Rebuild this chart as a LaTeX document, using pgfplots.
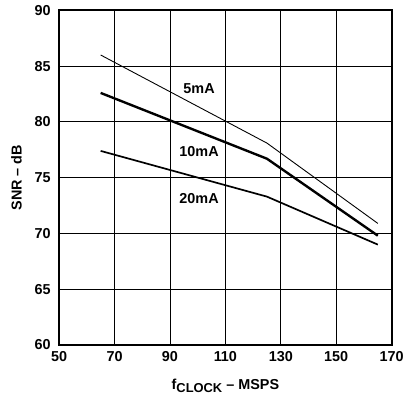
\documentclass[border=0pt]{standalone}
\usepackage{pgfplots}
\pgfplotsset{compat=1.18}
\usepackage{fontspec}
\setmainfont{Liberation Sans}
\begin{document}
\begin{tikzpicture}
\begin{axis}[
  scale only axis,
  width=335pt, height=337pt,
  xmin=50, xmax=170, ymin=60, ymax=90,
  xtick={50,70,90,110,130,150,170},
  ytick={60,65,70,75,80,85,90},
  grid=major,
  major grid style={black, line width=0.9pt},
  axis line style={black, line width=1.8pt},
  tick style={draw=none},
  /pgf/number format/assume math mode=true,
  ticklabel style={font=\fontsize{14.5}{16}\selectfont\bfseries},
  xticklabel style={yshift=-3pt},
  yticklabel style={xshift=-5pt},
  xlabel={\fontsize{14.5}{16}\selectfont\bfseries f\raisebox{-0.4ex}{\fontsize{13}{15}\selectfont CLOCK} -- MSPS},
  ylabel={\fontsize{14.5}{16}\selectfont\bfseries SNR -- dB},
  xlabel style={yshift=-11pt},
  ylabel style={yshift=6pt},
]
\addplot[black, line width=0.9pt] coordinates {(65,86.0) (125,78.1) (165,70.9)};
\addplot[black, line width=2.4pt] coordinates {(65,82.6) (125,76.7) (165,69.8)};
\addplot[black, line width=1.7pt] coordinates {(65,77.4) (125,73.3) (165,69.0)};
\node[font=\fontsize{14.5}{16}\selectfont\bfseries] at (axis cs:100.5,83.0) {5mA};
\node[font=\fontsize{14.5}{16}\selectfont\bfseries] at (axis cs:100.5,77.35) {10mA};
\node[font=\fontsize{14.5}{16}\selectfont\bfseries] at (axis cs:100.5,73.1) {20mA};
\end{axis}
\path ([xshift=-8pt]current bounding box.west) ([yshift=-2pt]current bounding box.south) ([yshift=2pt]current bounding box.north);
\end{tikzpicture}
\end{document}
